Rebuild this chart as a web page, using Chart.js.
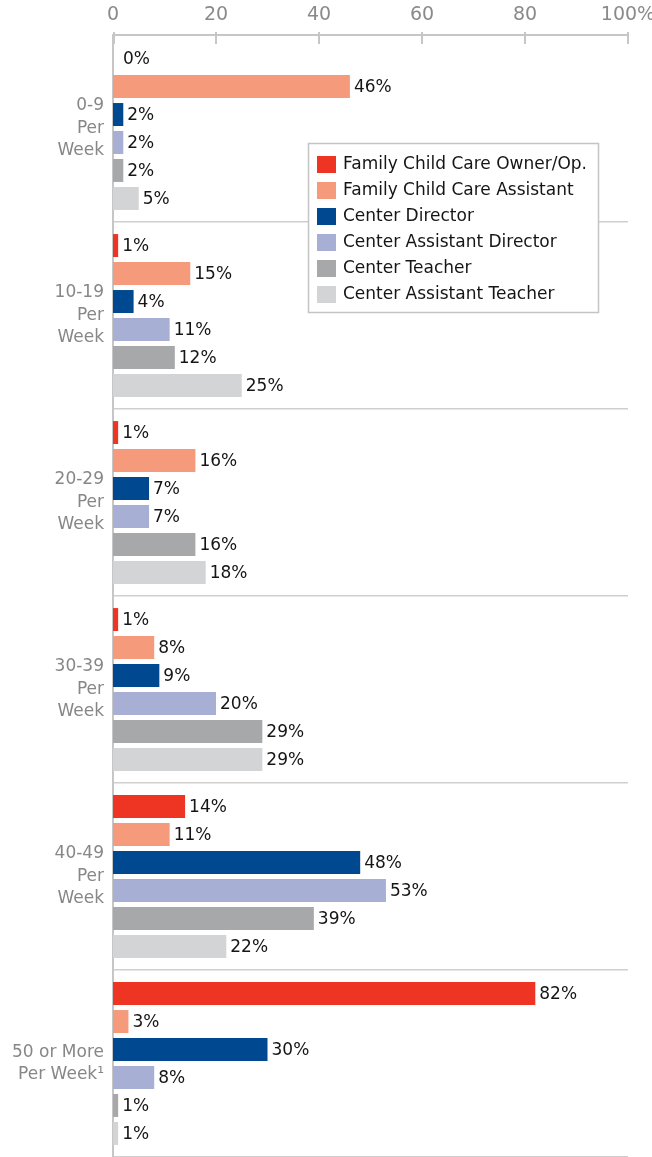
<!DOCTYPE html>
<html>
<head>
<meta charset="utf-8">
<script src="https://cdn.jsdelivr.net/npm/chart.js@4/dist/chart.umd.min.js"></script>
<style>
  html, body { margin: 0; padding: 0; background: #ffffff; }
  #wrap { width: 652px; height: 1157px; }
</style>
</head>
<body>
<div id="wrap"><canvas id="hours" width="652" height="1157"></canvas></div>
<script>
// Hours of work per week, share of each workforce group (%)
const categories = [
  ['0-9', 'Per', 'Week'],
  ['10-19', 'Per', 'Week'],
  ['20-29', 'Per', 'Week'],
  ['30-39', 'Per', 'Week'],
  ['40-49', 'Per', 'Week'],
  ['50 or More', 'Per Week\u00B9']
];
const seriesNames = [
  'Family Child Care Owner/Op.',
  'Family Child Care Assistant',
  'Center Director',
  'Center Assistant Director',
  'Center Teacher',
  'Center Assistant Teacher'
];
const fccOwner      = [0, 1, 1, 1, 14, 82];
const fccAssistant  = [46, 15, 16, 8, 11, 3];
const centerDir     = [2, 4, 7, 9, 48, 30];
const centerAsstDir = [2, 11, 7, 20, 53, 8];
const centerTeacher = [2, 12, 16, 29, 39, 1];
const centerAsstTch = [5, 25, 18, 29, 22, 1];
const xTicks = [0, 20, 40, 60, 80, 100];

const seriesValues = [fccOwner, fccAssistant, centerDir, centerAsstDir, centerTeacher, centerAsstTch];
const seriesColors = ['#EE3524', '#F59B7C', '#004990', '#A7B0D4', '#A7A8AA', '#D3D4D6'];

const FONT = '"DejaVu Sans", "Open Sans", sans-serif';

// Percent labels at the end of every bar
const valueLabels = {
  id: 'valueLabels',
  afterDatasetsDraw(chart) {
    const ctx = chart.ctx;
    ctx.save();
    ctx.font = '17px ' + FONT;
    ctx.fillStyle = '#151515';
    ctx.textAlign = 'left';
    ctx.textBaseline = 'middle';
    chart.data.datasets.forEach((ds, i) => {
      chart.getDatasetMeta(i).data.forEach((bar, j) => {
        const gap = ds.data[j] === 0 ? 10 : 4;
        ctx.fillText(ds.data[j] + '%', bar.x + gap, bar.y + 1);
      });
    });
    ctx.restore();
  }
};

// Short tick marks hanging from the top axis line
const topTicks = {
  id: 'topTicks',
  afterDraw(chart) {
    const ctx = chart.ctx;
    const xs = chart.scales.x;
    const top = chart.chartArea.top;
    ctx.save();
    ctx.strokeStyle = '#c6c6c6';
    ctx.lineWidth = 2;
    xTicks.forEach(v => {
      const px = Math.round(xs.getPixelForValue(v)) + (v === 0 ? 1 : 0);
      ctx.beginPath();
      ctx.moveTo(px, top - 3);
      ctx.lineTo(px, top + 9);
      ctx.stroke();
    });
    ctx.restore();
  }
};

// Boxed legend sitting inside the plot area
const boxLegend = {
  id: 'boxLegend',
  afterDraw(chart) {
    const ctx = chart.ctx;
    const area = chart.chartArea;
    const bx = area.left + 195, by = 143, bw = 291, bh = 170;
    ctx.save();
    ctx.fillStyle = '#ffffff';
    ctx.fillRect(bx, by, bw, bh);
    ctx.strokeStyle = '#c4c4c4';
    ctx.lineWidth = 1.5;
    ctx.strokeRect(bx + 0.5, by + 0.5, bw - 1, bh - 1);
    ctx.font = '17px ' + FONT;
    ctx.textAlign = 'left';
    ctx.textBaseline = 'middle';
    chart.data.datasets.forEach((ds, i) => {
      const rowY = by + 21 + i * 26;
      ctx.fillStyle = ds.backgroundColor;
      ctx.fillRect(bx + 9, rowY - 8, 19, 17);
      ctx.fillStyle = '#151515';
      ctx.fillText(ds.label, bx + 35, rowY + 1);
    });
    ctx.restore();
  }
};

new Chart(document.getElementById('hours'), {
  type: 'bar',
  data: {
    labels: categories,
    datasets: seriesNames.map((name, i) => ({
      label: name,
      data: seriesValues[i],
      backgroundColor: seriesColors[i],
      borderWidth: 0,
      barPercentage: 0.82,
      categoryPercentage: 0.898
    }))
  },
  options: {
    indexAxis: 'y',
    responsive: false,
    animation: false,
    layout: { padding: { right: 24, top: 0, bottom: 0, left: 0 } },
    plugins: {
      legend: { display: false },
      tooltip: { enabled: false }
    },
    scales: {
      x: {
        position: 'top',
        min: 0,
        max: 100,
        afterBuildTicks(scale) {
          scale.ticks = xTicks.map(v => ({ value: v }));
        },
        afterFit(scale) {
          scale.height = 35;
          scale.paddingLeft = 0;
          scale.paddingRight = 0;
        },
        ticks: {
          color: '#8a8a8a',
          font: { family: FONT, size: 19 },
          padding: 9,
          callback: v => (v === 100 ? '100%' : String(v))
        },
        grid: { display: false, drawTicks: false },
        border: { display: true, color: '#c6c6c6', width: 2 }
      },
      y: {
        afterFit(scale) {
          scale.width = 113;
          scale.paddingTop = 0;
          scale.paddingBottom = 0;
        },
        ticks: {
          color: '#878787',
          font: { family: FONT, size: 17, lineHeight: 1.32 },
          padding: 9
        },
        grid: {
          offset: true,
          color: '#cfcfcf',
          lineWidth: 1.5,
          drawTicks: false
        },
        border: { display: true, color: '#c6c6c6', width: 2 }
      }
    }
  },
  plugins: [valueLabels, topTicks, boxLegend]
});
</script>
</body>
</html>
